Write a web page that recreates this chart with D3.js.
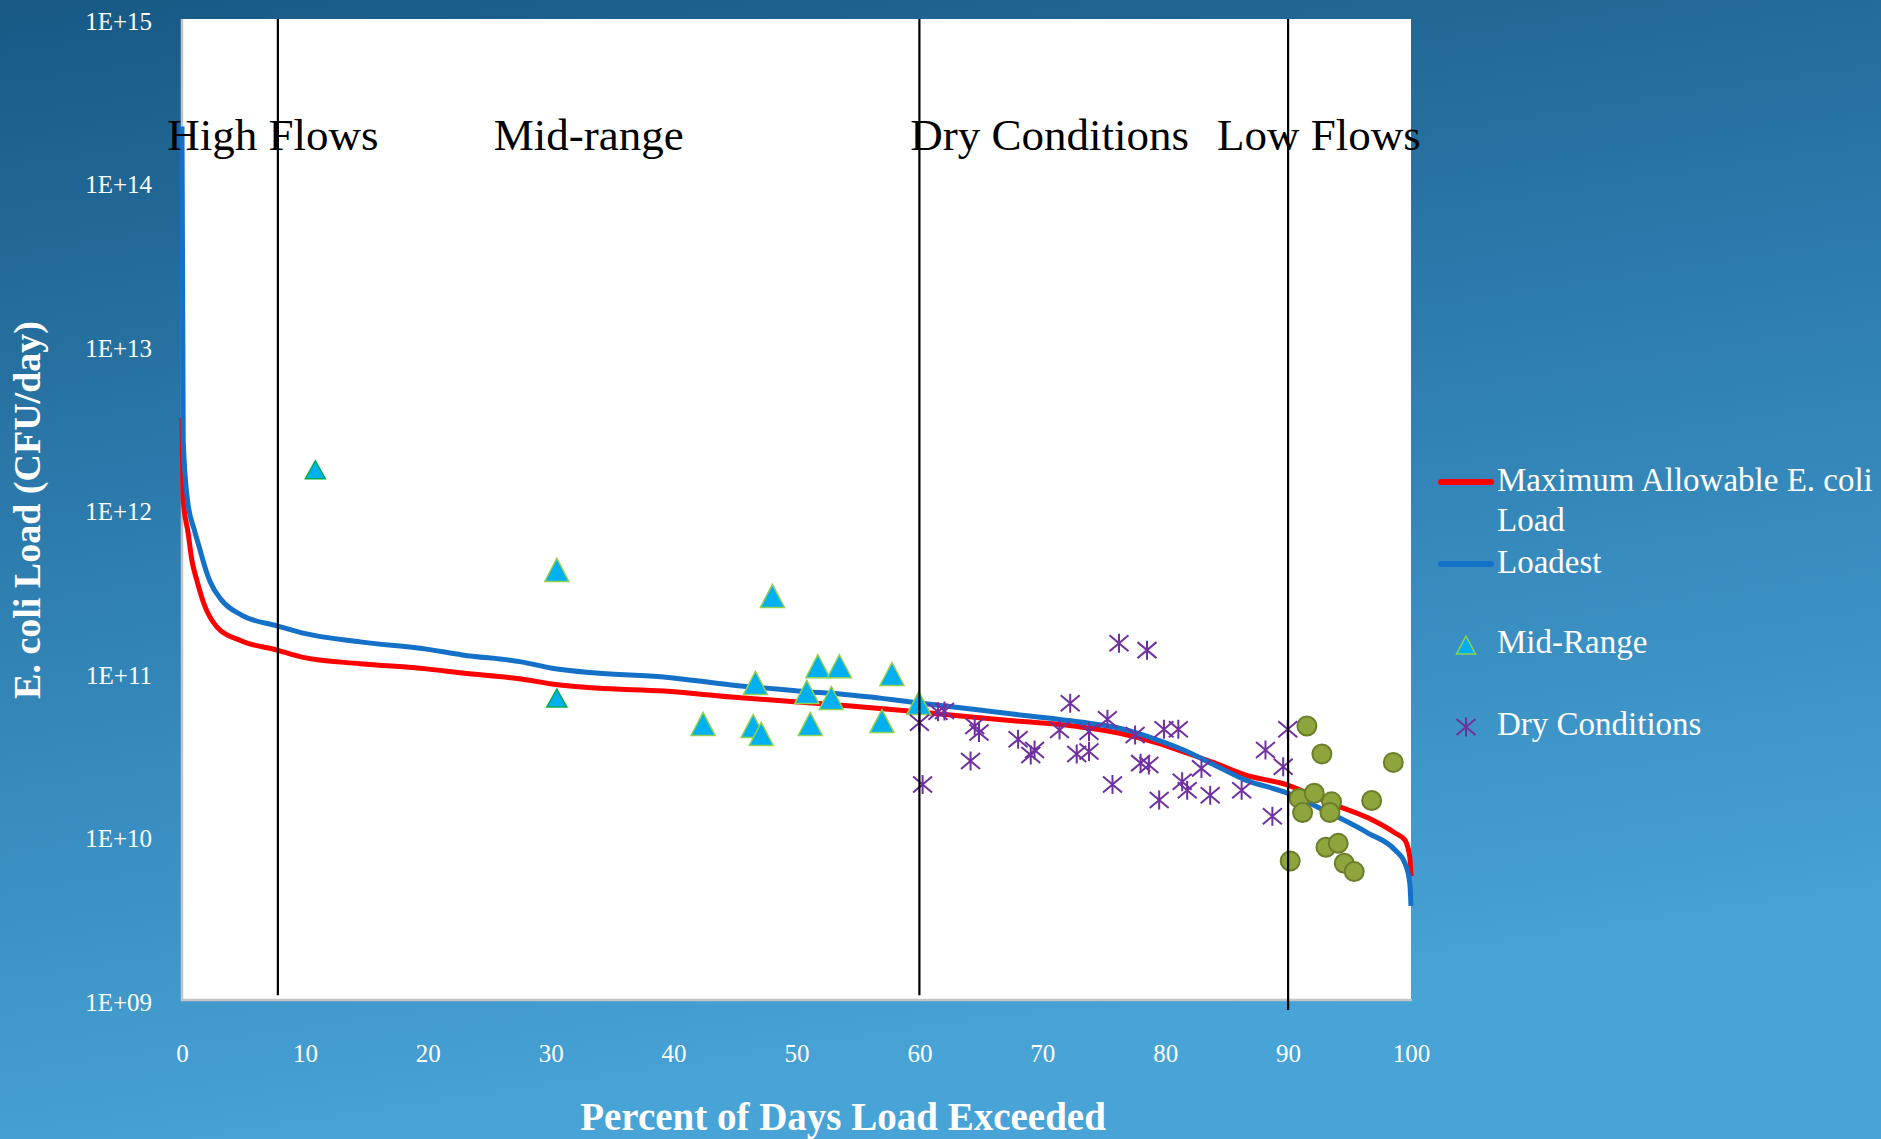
<!DOCTYPE html>
<html>
<head>
<meta charset="utf-8">
<script src="https://cdn.jsdelivr.net/npm/d3@7"></script>
<style>
  html, body { margin: 0; padding: 0; background: #2a76a8; }
  svg { display: block; }
</style>
</head>
<body>
<svg id="chart" width="1881" height="1139"></svg>
<script>
// Load duration curves: percent of days exceeded vs. E. coli load (CFU/day)
const maxAllowable = [
  [0, 3.63e12], [0.1, 1.14e12], [0.5, 7.18e11], [0.8, 4.91e11], [1.2, 3.71e11],
  [1.76, 2.68e11], [2.85, 1.91e11], [4.85, 1.57e11], [7.75, 1.38e11], [9.76, 1.25e11],
  [14.5, 1.14e11], [19.9, 1.06e11], [22.8, 1.0e11], [27.6, 9.19e10], [30.1, 8.57e10],
  [33.7, 8.09e10], [39.2, 7.76e10], [44.7, 7.13e10], [50.1, 6.65e10], [54.4, 6.29e10],
  [60, 5.77e10], [66.9, 5.16e10], [73.1, 4.68e10], [76.2, 4.30e10], [79.4, 3.73e10],
  [81.5, 3.29e10], [84, 2.82e10], [86.5, 2.38e10], [89.9, 2.07e10], [93.4, 1.60e10],
  [96.5, 1.30e10], [98.7, 1.05e10], [99.5, 9.52e9], [99.9, 7.5e9], [100, 5.73e9]
];

const loadest = [
  [0, 2.2e14], [0.1, 2.66e12], [0.45, 1.14e12], [1.0, 7.5e11], [1.4, 5.9e11],
  [1.94, 4.27e11], [2.3, 3.6e11], [3.2, 2.8e11], [4.85, 2.26e11], [7.75, 1.94e11],
  [9.76, 1.76e11], [14.5, 1.55e11], [19.9, 1.40e11], [22.8, 1.29e11], [27.6, 1.17e11],
  [30.1, 1.07e11], [33.7, 1.0e11], [39.2, 9.46e10], [44.7, 8.45e10], [50.1, 7.77e10],
  [54.4, 7.33e10], [60, 6.56e10], [66.9, 5.69e10], [73.1, 5.01e10], [76.2, 4.61e10],
  [79.4, 3.89e10], [81.5, 3.38e10], [84, 2.74e10], [86.5, 2.22e10], [89.9, 1.85e10],
  [93.4, 1.39e10], [96.5, 1.05e10], [98.7, 8.27e9], [99.5, 6.88e9], [99.9, 5.2e9],
  [100, 3.76e9]
];

// Observed samples
const midRange = [
  [30.5, 4.27e11], [48.04, 2.96e11], [46.66, 8.69e10], [51.74, 1.10e11], [53.49, 1.10e11],
  [50.84, 7.66e10], [52.83, 7.03e10], [42.4, 4.88e10], [46.47, 4.74e10], [47.13, 4.24e10],
  [51.12, 4.88e10], [57.77, 9.86e10], [56.95, 5.08e10], [59.95, 6.56e10]
];
const midRangeEarly = [
  [10.85, 1.75e12], [30.5, 7.03e10]
];

const dryConditions = [
  [76.24, 1.52e11], [78.52, 1.38e11], [72.27, 6.53e10], [61.51, 5.80e10], [62.04, 5.86e10],
  [60.0, 4.97e10], [64.5, 4.74e10], [64.85, 4.32e10], [68.03, 3.93e10], [71.4, 4.48e10],
  [73.8, 4.37e10], [75.3, 5.21e10], [77.55, 4.18e10], [79.9, 4.53e10], [81.07, 4.53e10],
  [89.97, 4.53e10], [88.16, 3.38e10], [89.6, 2.67e10], [64.16, 2.90e10], [69.37, 3.38e10],
  [69.06, 3.15e10], [72.8, 3.20e10], [73.8, 3.31e10], [78.0, 2.81e10], [78.67, 2.74e10],
  [82.95, 2.61e10], [81.38, 2.16e10], [81.79, 1.92e10], [83.66, 1.79e10], [86.22, 1.92e10],
  [60.26, 2.08e10], [75.71, 2.08e10], [79.51, 1.67e10], [88.72, 1.33e10]
];

const lowFlows = [
  [91.53, 4.74e10], [92.75, 3.20e10], [98.56, 2.84e10], [90.9, 1.71e10], [92.13, 1.84e10],
  [93.54, 1.63e10], [93.4, 1.40e10], [91.18, 1.40e10], [96.8, 1.66e10], [93.08, 8.59e9],
  [94.08, 9.08e9], [90.17, 7.08e9], [94.57, 6.86e9], [95.38, 6.1e9]
];

// Flow regime boundaries (percent) and where each divider line stops
const boundaries = [
  { at: 7.8, bottom: 1.07e9 },
  { at: 60, bottom: 1.07e9 },
  { at: 90, bottom: 8.7e8 }
];
const regionLabels = ["High Flows", "Mid-range", "Dry Conditions", "Low Flows"];

const xTicks = [0, 10, 20, 30, 40, 50, 60, 70, 80, 90, 100];
const yTicks = [1e9, 1e10, 1e11, 1e12, 1e13, 1e14, 1e15];
const yTickLabels = ["1E+09", "1E+10", "1E+11", "1E+12", "1E+13", "1E+14", "1E+15"];

const legendItems = [
  { kind: "line", color: "#ff0000", lines: ["Maximum Allowable E. coli", "Load"] },
  { kind: "line", color: "#1570c8", lines: ["Loadest"] },
  { kind: "triangle", lines: ["Mid-Range"] },
  { kind: "star", lines: ["Dry Conditions"] }
];

const W = 1881, H = 1139;
const plot = { left: 182, right: 1411, top: 19, bottom: 1000 };
const serif = "'Liberation Serif', 'DejaVu Serif', serif";

const svg = d3.select("#chart");

// Background gradient
const defs = svg.append("defs");
const grad = defs.append("linearGradient").attr("id", "bg")
  .attr("x1", "0%").attr("y1", "0%").attr("x2", "25%").attr("y2", "100%");
grad.append("stop").attr("offset", "0%").attr("stop-color", "#185985");
grad.append("stop").attr("offset", "45%").attr("stop-color", "#2d7cae");
grad.append("stop").attr("offset", "100%").attr("stop-color", "#48a3d7");
svg.append("rect").attr("width", W).attr("height", H).attr("fill", "url(#bg)");

const x = d3.scaleLinear().domain([0, 100]).range([plot.left, plot.right]);
const y = d3.scaleLog().domain([1e9, 1e15]).range([plot.bottom, plot.top]);

// Plot area
svg.append("rect")
  .attr("x", plot.left).attr("y", plot.top)
  .attr("width", plot.right - plot.left).attr("height", plot.bottom - plot.top)
  .attr("fill", "#ffffff");
svg.append("path")
  .attr("d", `M${plot.left},${plot.top}V${plot.bottom}H${plot.right + 1}`)
  .attr("fill", "none").attr("stroke", "#c4c4c4").attr("stroke-width", 2.5);

// Curves
const line = d3.line().x(d => x(d[0])).y(d => y(d[1])).curve(d3.curveMonotoneX);
const clip = defs.append("clipPath").attr("id", "plotClip");
clip.append("rect").attr("x", plot.left - 3).attr("y", plot.top)
  .attr("width", plot.right - plot.left + 6).attr("height", plot.bottom - plot.top);

const curves = svg.append("g").attr("clip-path", "url(#plotClip)");
curves.append("path").datum(maxAllowable).attr("d", line)
  .attr("fill", "none").attr("stroke", "#ff0000").attr("stroke-width", 5)
  .attr("stroke-linejoin", "round");
curves.append("path").datum(loadest).attr("d", line)
  .attr("fill", "none").attr("stroke", "#1570c8").attr("stroke-width", 5)
  .attr("stroke-linejoin", "round");

// Marker shapes
function triPath(w, h) {
  return `M0,${-h / 2}L${w / 2},${h / 2}L${-w / 2},${h / 2}Z`;
}
function starPath(r, s) {
  return `M0,${-r}V${r}M${-r},${-s}L${r},${s}M${-r},${s}L${r},${-s}`;
}

svg.append("g").selectAll("path").data(midRangeEarly).join("path")
  .attr("transform", d => `translate(${x(d[0])},${y(d[1])})`)
  .attr("d", triPath(20, 18))
  .attr("fill", "#00b0f0").attr("stroke", "#00b050").attr("stroke-width", 1.5);

svg.append("g").selectAll("path").data(midRange).join("path")
  .attr("transform", d => `translate(${x(d[0])},${y(d[1])})`)
  .attr("d", triPath(24, 23))
  .attr("fill", "#00b0f0").attr("stroke", "#92d050").attr("stroke-width", 1.5);

svg.append("g").selectAll("path").data(dryConditions).join("path")
  .attr("transform", d => `translate(${x(d[0])},${y(d[1])})`)
  .attr("d", starPath(9.5, 8))
  .attr("fill", "none").attr("stroke", "#7030a0").attr("stroke-width", 2);

svg.append("g").selectAll("circle").data(lowFlows).join("circle")
  .attr("cx", d => x(d[0])).attr("cy", d => y(d[1])).attr("r", 9.5)
  .attr("fill", "#8ea53d").attr("stroke", "#6b7f2a").attr("stroke-width", 2);

// Flow regime dividers
svg.append("g").selectAll("line").data(boundaries).join("line")
  .attr("x1", d => x(d.at)).attr("x2", d => x(d.at))
  .attr("y1", y(1e15)).attr("y2", d => y(d.bottom))
  .attr("stroke", "#000").attr("stroke-width", 2.2);

// Regime labels
const labelCenters = [7.4, 33.1, 70.6, 92.5];
svg.append("g").selectAll("text").data(regionLabels).join("text")
  .attr("x", (d, i) => x(labelCenters[i])).attr("y", 150)
  .attr("text-anchor", "middle")
  .attr("font-family", serif).attr("font-size", 45).attr("fill", "#000")
  .text(d => d);

// Axes
const yAxis = d3.axisLeft(y).tickValues(yTicks)
  .tickFormat((d, i) => yTickLabels[i]).tickSize(0).tickPadding(30);
const gy = svg.append("g").attr("transform", `translate(${plot.left},0)`).call(yAxis);
gy.select(".domain").remove();
gy.selectAll("text").attr("font-family", serif).attr("font-size", 25)
  .attr("fill", "#ffffff").attr("dy", "0.4em");

const xAxis = d3.axisBottom(x).tickValues(xTicks).tickFormat(d => d)
  .tickSize(0).tickPadding(44);
const gx = svg.append("g").attr("transform", `translate(0,${plot.bottom})`).call(xAxis);
gx.select(".domain").remove();
gx.selectAll("text").attr("font-family", serif).attr("font-size", 25)
  .attr("fill", "#ffffff");

// Axis titles
svg.append("text")
  .attr("transform", `translate(40,510) rotate(-90)`)
  .attr("text-anchor", "middle")
  .attr("font-family", serif).attr("font-weight", "bold").attr("font-size", 38)
  .attr("fill", "#ffffff")
  .text("E. coli Load (CFU/day)");

svg.append("text")
  .attr("x", 843).attr("y", 1130)
  .attr("text-anchor", "middle")
  .attr("font-family", serif).attr("font-weight", "bold").attr("font-size", 39)
  .attr("fill", "#ffffff")
  .text("Percent of Days Load Exceeded");

// Legend
const legend = svg.append("g").attr("transform", "translate(1438,0)");
const legendRows = [491, 573, 653, 735];
legendItems.forEach((item, i) => {
  const base = legendRows[i];
  const g = legend.append("g");
  if (item.kind === "line") {
    g.append("line").attr("x1", 3).attr("x2", 53)
      .attr("y1", base - 9).attr("y2", base - 9)
      .attr("stroke", item.color).attr("stroke-width", 6).attr("stroke-linecap", "round");
  } else if (item.kind === "triangle") {
    g.append("path").attr("transform", `translate(28,${base - 8})`)
      .attr("d", triPath(19, 18))
      .attr("fill", "#00b0f0").attr("stroke", "#92d050").attr("stroke-width", 1.5);
  } else {
    g.append("path").attr("transform", `translate(28,${base - 8})`)
      .attr("d", starPath(9.5, 8))
      .attr("fill", "none").attr("stroke", "#7030a0").attr("stroke-width", 2);
  }
  item.lines.forEach((t, j) => {
    g.append("text").attr("x", 59).attr("y", base + j * 39.5)
      .attr("font-family", serif).attr("font-size", 33).attr("fill", "#ffffff")
      .text(t);
  });
});
</script>
</body>
</html>
